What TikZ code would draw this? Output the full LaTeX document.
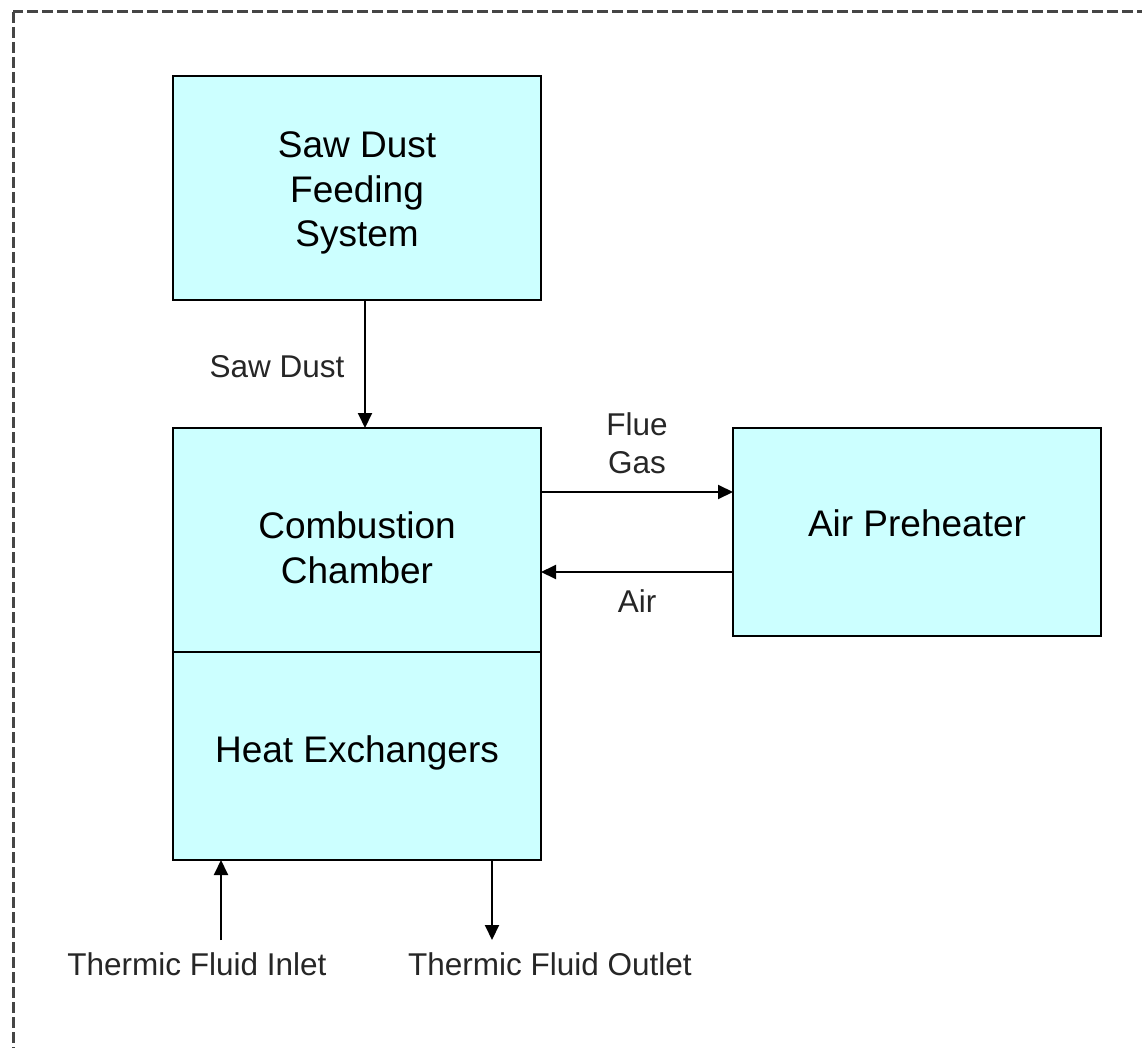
\documentclass[tikz,border=0pt]{standalone}
\usepackage{fontspec}
\setmainfont{Liberation Sans}
\usetikzlibrary{arrows.meta}
\definecolor{boxfill}{HTML}{CCFFFF}
\definecolor{framegray}{HTML}{454545}
\begin{document}
\begin{tikzpicture}[x=1pt,y=-1pt,
  blockbox/.style={draw=black,line width=2pt,fill=boxfill,minimum width=368pt,inner sep=0pt,outer sep=0pt},
  boxtext/.style={align=center,inner sep=0pt,font=\fontsize{37}{44.5}\selectfont},
  lbl/.style={align=center,inner sep=0pt,text=black!85,font=\fontsize{31.5}{38}\selectfont},
  arr/.style={line width=2pt,-{Triangle[length=15pt,width=14pt]}}]
\useasboundingbox (0,0) rectangle (1142,1048);
\begin{scope}
\clip (0,0) rectangle (1142,1048);
\draw[framegray,line width=3pt,dash pattern=on 11pt off 4pt] (13,12) rectangle (1170,1080);
\end{scope}
\node[blockbox,minimum height=224pt] (feed) at (357,188) {};
\node[blockbox,minimum height=224pt] (comb) at (357,540) {};
\node[blockbox,minimum height=208pt] (heat) at (357,756) {};
\node[blockbox,minimum height=208pt] (air) at (917,532) {};
\node[boxtext] (feedtxt) at ([yshift=-5]feed.center) {Saw Dust\\Feeding\\System};
\node[boxtext] (combtxt) at ([yshift=-8]comb.center) {Combustion\\Chamber};
\node[boxtext] (heattxt) at ([yshift=3]heat.center) {Heat Exchangers};
\node[boxtext] (airtxt) at ([yshift=9]air.center) {Air Preheater};
\draw[arr] ([xshift=8]feed.south) -- ([xshift=8]comb.north);
\draw[arr] (comb.east |- 0,492) -- (air.west |- 0,492);
\draw[arr] (air.west |- 0,572) -- (comb.east |- 0,572);
\coordinate (inlet) at (221,940);
\coordinate (outlet) at (492,940);
\draw[arr] (inlet) -- (inlet |- heat.south);
\draw[arr] (outlet |- heat.south) -- (outlet);
\node[lbl] (lsaw) at (277,367) {Saw Dust};
\node[lbl] (lflue) at (637,443) {Flue\\Gas};
\node[lbl] (lair) at (637,601) {Air};
\node[lbl] (lin) at (197,964) {Thermic Fluid Inlet};
\node[lbl] (lout) at (550,964) {Thermic Fluid Outlet};
\end{tikzpicture}
\end{document}
